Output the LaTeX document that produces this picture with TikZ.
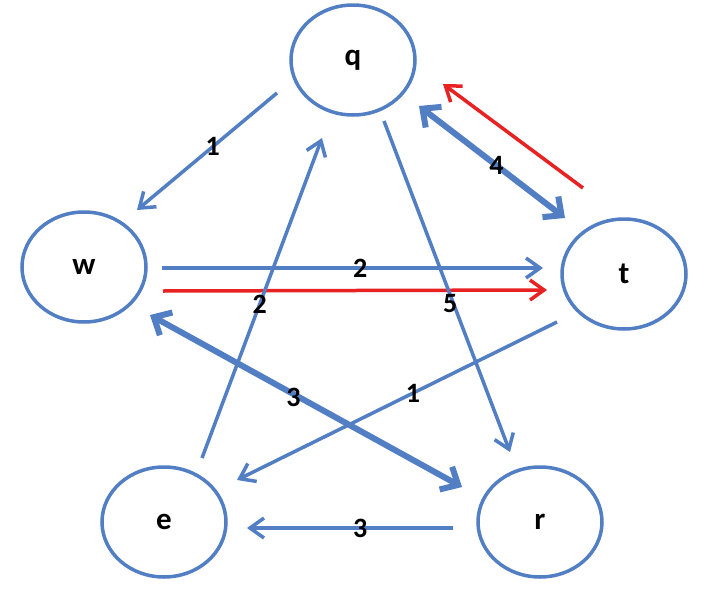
\documentclass[tikz,border=0pt]{standalone}
\usepackage{fontspec}
\setmainfont{Carlito}
\usetikzlibrary{arrows.meta,shapes.geometric,calc}
\definecolor{eblue}{RGB}{82,126,196}
\definecolor{ered}{RGB}{232,34,34}
\begin{document}
\begin{tikzpicture}[x=1pt,y=-1pt,
  vert/.style={ellipse,draw=eblue,line width=3.5pt,minimum width=124pt,minimum height=110pt,inner sep=0pt,font=\fontsize{31}{33}\selectfont\bfseries},
  lnk/.style={draw=eblue,line width=3.5pt,-{Straight Barb[length=14pt,width=20pt]}},
  rlnk/.style={draw=ered,line width=3.5pt,-{Straight Barb[length=14pt,width=20pt]}},
  thk/.style={draw=eblue,line width=6pt,{Straight Barb[length=14pt,width=26pt]}-{Straight Barb[length=14pt,width=26pt]}},
  lbl/.style={inner sep=0pt,text=black,font=\fontsize{28}{30}\selectfont\bfseries}]
\useasboundingbox (0,0) rectangle (716,592);
\fill[white] (0,0) rectangle (716,592);
% nodes
\node[vert] (q) at (353,60) {q};
\node[vert] (w) at (84,267) {w};
\node[vert] (t) at (624,274) {t};
\node[vert] (e) at (164,522) {e};
\node[vert] (r) at (540,522) {r};
% connector end points
\coordinate (qw1) at ([shift={(-76,33)}]q.center);
\coordinate (qw2) at ([shift={(53,-57)}]w.center);
\coordinate (qt1) at ([shift={(66,46)}]q.center);
\coordinate (qt2) at ([shift={(-59,-56)}]t.center);
\coordinate (tq1) at ([shift={(-41,-86)}]t.center);
\coordinate (tq2) at ([shift={(90,24)}]q.center);
\coordinate (wt1) at ([shift={(78,1)}]w.center);
\coordinate (wt2) at ([shift={(-81,-6)}]t.center);
\coordinate (wtr1) at ([shift={(79,24)}]w.center);
\coordinate (wtr2) at ([shift={(-77,16)}]t.center);
\coordinate (eq1) at ([shift={(38,-64)}]e.center);
\coordinate (eq2) at ([shift={(-31,78)}]q.center);
\coordinate (qr1) at ([shift={(31,61)}]q.center);
\coordinate (qr2) at ([shift={(-30,-70)}]r.center);
\coordinate (wr1) at ([shift={(66,48)}]w.center);
\coordinate (wr2) at ([shift={(-78,-35)}]r.center);
\coordinate (te1) at ([shift={(-67,48)}]t.center);
\coordinate (te2) at ([shift={(73,-42)}]e.center);
\coordinate (re1) at ([shift={(-87,6)}]r.center);
\coordinate (re2) at ([shift={(83,6)}]e.center);
% connectors
\draw[lnk] (qw1) -- (qw2);
\draw[thk] (qt1) -- (qt2);
\draw[rlnk] (tq1) -- (tq2);
\draw[lnk] (wt1) -- (wt2);
\draw[rlnk] (wtr1) -- (wtr2);
\draw[lnk] (eq1) -- (eq2);
\draw[lnk] (qr1) -- (qr2);
\draw[thk] (wr1) -- (wr2);
\draw[lnk] (te1) -- (te2);
\draw[lnk] (re1) -- (re2);
% labels
\path (qw1) -- node[lbl,pos=0.46] (l1) {1} (qw2);
\path (qt1) -- node[lbl,pos=0.53] (l2) {4} (qt2);
\path (wt1) -- node[lbl,pos=0.52] (l3) {2} (wt2);
\path (eq1) -- node[lbl,pos=0.48] (l4) {2} (eq2);
\path (qr1) -- node[lbl,pos=0.55,xshift=-3pt] (l5) {5} (qr2);
\path (wr1) -- node[lbl,pos=0.46,yshift=-3pt] (l6) {3} (wr2);
\path (te1) -- node[lbl,pos=0.45] (l7) {1} (te2);
\path (re1) -- node[lbl,pos=0.45] (l8) {3} (re2);
\end{tikzpicture}
\end{document}
